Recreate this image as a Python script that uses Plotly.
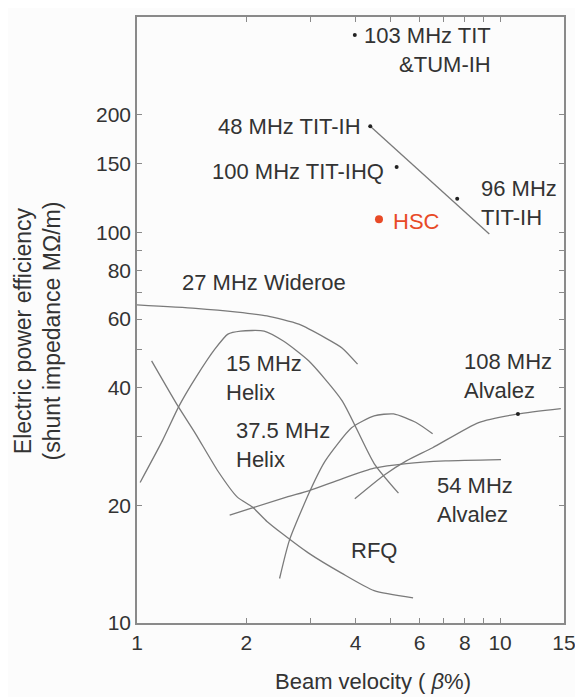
import math
import plotly.graph_objects as go

# ---------------- data ----------------
wideroe_x = [1.0, 1.45, 1.89, 2.28, 2.79, 3.30, 3.67, 4.05]
wideroe_y = [65.2, 63.9, 62.5, 61.1, 58.2, 53.7, 50.6, 46.0]

helix15_x = [1.02, 1.175, 1.305, 1.45, 1.64, 1.78, 1.93, 2.24, 2.53, 2.97, 3.67, 4.50, 5.25]
helix15_y = [22.9, 29.3, 35.9, 42.4, 50.3, 54.9, 55.9, 55.9, 52.7, 46.9, 37.1, 25.6, 21.5]

rfq_x = [1.097, 1.297, 1.45, 1.67, 1.89, 2.08, 2.28, 2.50, 2.97, 3.67, 4.50, 5.76]
rfq_y = [46.9, 35.9, 30.5, 24.5, 21.0, 19.8, 18.2, 17.0, 15.1, 13.4, 12.1, 11.6]

helix37_x = [2.47, 2.63, 3.01, 3.30, 3.90, 4.50, 5.09, 5.87, 6.52]
helix37_y = [13.0, 16.3, 22.0, 26.0, 31.6, 33.9, 34.3, 32.6, 30.5]

alv54_x = [1.80, 2.58, 2.97, 3.67, 4.50, 5.52, 7.07, 10.06]
alv54_y = [18.9, 21.0, 21.8, 23.4, 24.9, 25.6, 26.0, 26.2]

alv108_x = [3.98, 4.79, 5.52, 6.52, 8.73, 11.2, 14.7]
alv108_y = [20.8, 23.9, 26.0, 28.1, 32.6, 34.3, 35.4]

tit_line_x = [4.39, 9.34]
tit_line_y = [187, 99]

dot_names = ["103 MHz TIT&TUM-IH", "48 MHz TIT-IH", "100 MHz TIT-IHQ", "96 MHz TIT-IH", "108 MHz Alvalez"]
dot_x = [3.98, 4.39, 5.19, 7.62, 11.2]
dot_y = [320, 187, 147, 122, 34.3]

hsc_x = [4.64]
hsc_y = [108]

x_tickvals = [1, 2, 3, 4, 5, 6, 7, 8, 9, 10, 15]
x_ticktext = ["1", "2", "", "4", "", "6", "", "8", "", "10", "15"]
y_tickvals = [10, 20, 30, 40, 50, 60, 70, 80, 90, 100, 150, 200]
y_ticktext = ["10", "20", "", "40", "", "60", "", "80", "", "100", "150", "200"]

# label text and anchor positions (data units)
labels = [
    ("103 MHz TIT<br>&TUM-IH", 9.57, 293, "right", "right"),
    ("48 MHz TIT-IH", 4.18, 187, "right", "right"),
    ("100 MHz TIT-IHQ", 4.85, 143, "right", "right"),
    ("96 MHz<br>TIT-IH", 8.73, 118.6, "left", "left"),
    ("27 MHz Wideroe", 1.31, 74.5, "left", "left"),
    ("15 MHz<br>Helix", 1.735, 42.4, "left", "left"),
    ("37.5 MHz<br>Helix", 1.85, 28.6, "left", "left"),
    ("108 MHz<br>Alvalez", 7.85, 42.9, "left", "left"),
    ("54 MHz<br>Alvalez", 6.6, 20.6, "left", "left"),
    ("RFQ", 3.83, 15.3, "left", "left"),
]
hsc_label = ("HSC", 5.0, 106.7)

# ---------------- styles ----------------
FONT = "Liberation Sans, Arial, Helvetica, sans-serif"
LINE_COLOR = "#7a7a7a"
TEXT_COLOR = "#333333"
AXIS_COLOR = "#8a8a8a"
RED = "#e84a27"
LABEL_SIZE = 22

fig = go.Figure()

for xs, ys in [(wideroe_x, wideroe_y), (helix15_x, helix15_y), (rfq_x, rfq_y),
               (helix37_x, helix37_y), (alv54_x, alv54_y), (alv108_x, alv108_y)]:
    fig.add_trace(go.Scatter(x=xs, y=ys, mode="lines",
                             line=dict(color=LINE_COLOR, width=1.3, shape="spline", smoothing=0.6),
                             showlegend=False, hoverinfo="skip"))

fig.add_trace(go.Scatter(x=tit_line_x, y=tit_line_y, mode="lines",
                         line=dict(color=LINE_COLOR, width=1.3), showlegend=False))

fig.add_trace(go.Scatter(x=dot_x, y=dot_y, mode="markers", text=dot_names,
                         marker=dict(color="#222222", size=4), showlegend=False))

fig.add_trace(go.Scatter(x=hsc_x, y=hsc_y, mode="markers", text=["HSC"],
                         marker=dict(color=RED, size=8), showlegend=False))

for text, lx, ly, xanchor, align in labels:
    fig.add_annotation(x=math.log10(lx), y=math.log10(ly), xref="x", yref="y",
                       text=text, showarrow=False, xanchor=xanchor, yanchor="middle",
                       align=align, font=dict(family=FONT, size=LABEL_SIZE, color=TEXT_COLOR))

fig.add_annotation(x=math.log10(hsc_label[1]), y=math.log10(hsc_label[2]), xref="x", yref="y",
                   text=hsc_label[0], showarrow=False, xanchor="left", yanchor="middle",
                   font=dict(family=FONT, size=LABEL_SIZE, color=RED))

# axis titles
fig.add_annotation(xref="paper", yref="paper", x=-0.233, y=0.482,
                   text="Electric power efficiency<br>(shunt impedance MΩ/m)",
                   textangle=-90, showarrow=False, xanchor="center", yanchor="middle",
                   font=dict(family=FONT, size=23, color=TEXT_COLOR))
fig.add_annotation(xref="paper", yref="paper", x=0.553, y=-0.096,
                   text="Beam velocity ( <i>β</i>%)",
                   showarrow=False, xanchor="center", yanchor="middle",
                   font=dict(family=FONT, size=22, color=TEXT_COLOR))

axis_common = dict(showgrid=False, zeroline=False, showline=True, linecolor=AXIS_COLOR,
                   linewidth=1.5, mirror="ticks", ticks="inside", ticklen=5,
                   tickcolor=AXIS_COLOR, tickwidth=1.2,
                   tickfont=dict(family=FONT, size=21, color=TEXT_COLOR))

fig.update_xaxes(type="log", range=[0, math.log10(15)], tickmode="array",
                 tickvals=x_tickvals, ticktext=x_ticktext, **axis_common)
fig.update_yaxes(type="log", range=[1, math.log10(356)], tickmode="array",
                 tickvals=y_tickvals, ticktext=y_ticktext, **axis_common)

# page body has an 8px margin, so the figure is sized to fit inside the window
fig.update_layout(width=575, height=689,
                  margin=dict(l=129, r=12, t=7, b=74),
                  paper_bgcolor="#fcfcfc", plot_bgcolor="#fcfcfc",
                  showlegend=False)

fig.write_html("out.html")
